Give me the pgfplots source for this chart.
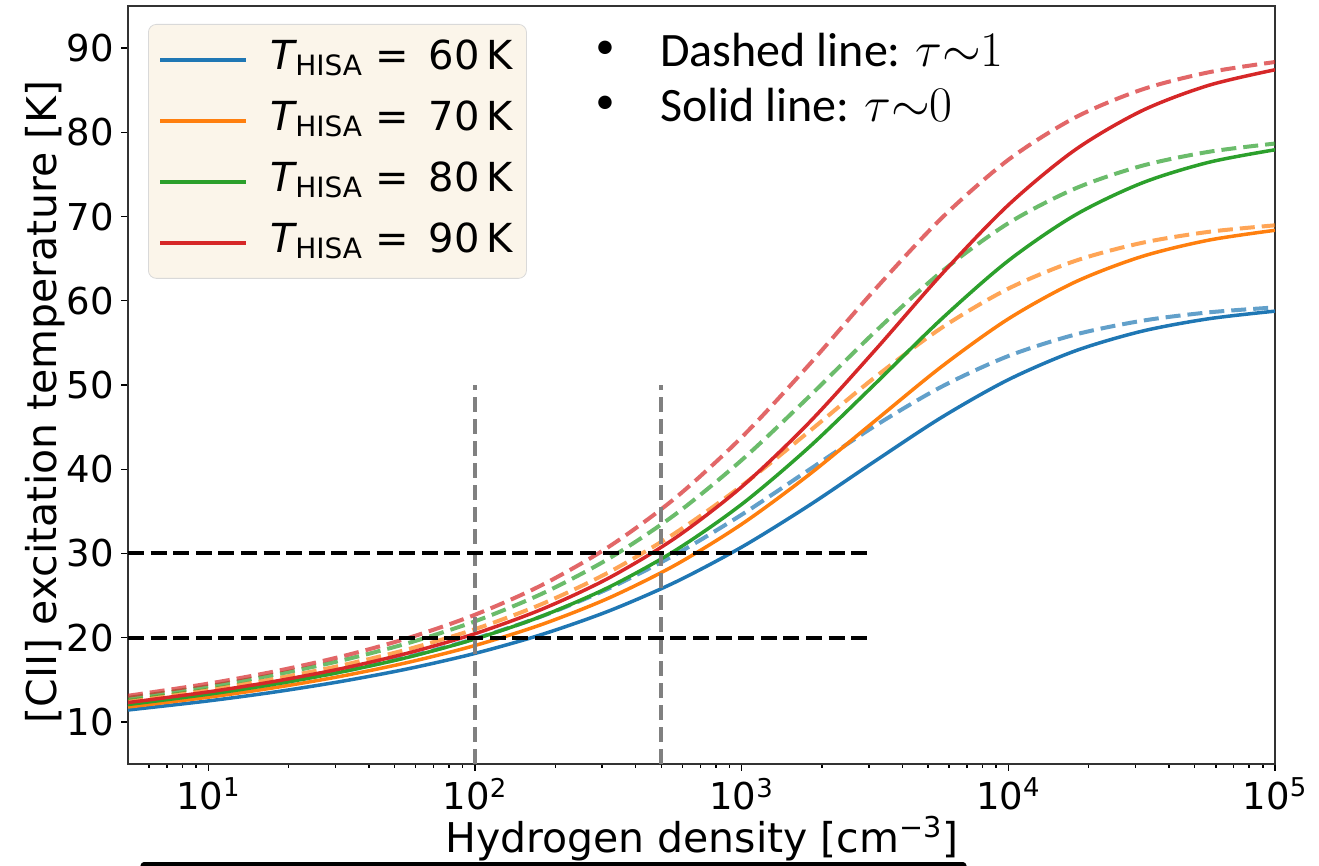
\documentclass[border=0pt]{standalone}
\usepackage{pgfplots}
\pgfplotsset{compat=1.18}
\usepackage{pgfplotstable}
\usepackage{fontspec}
\setmainfont{DejaVu Sans}
\newfontfamily\carlito{Carlito}
\definecolor{tabblue}{HTML}{1F77B4}
\definecolor{taborange}{HTML}{FF7F0E}
\definecolor{tabgreen}{HTML}{2CA02C}
\definecolor{tabred}{HTML}{D62728}
\definecolor{legbg}{RGB}{251,245,234}

\pgfplotstableread{
n       s60    s70    s80    s90    d60    d70    d80    d90
5       11.41  11.77  12.06  12.29  12.10  12.51  12.84  13.10
10      12.49  12.93  13.28  13.56  13.32  13.82  14.22  14.54
17.78   13.55  14.07  14.48  14.82  14.53  15.13  15.61  16.00
31.62   14.81  15.43  15.93  16.33  15.98  16.71  17.29  17.77
56.23   16.31  17.07  17.68  18.18  17.73  18.63  19.36  19.96
100     18.13  19.07  19.84  20.47  19.88  21.01  21.94  22.72
177.8   20.37  21.56  22.54  23.36  22.53  23.98  25.20  26.23
316.2   23.14  24.68  25.96  27.05  25.81  27.73  29.35  30.75
562.3   26.57  28.60  30.33  31.81  29.84  32.40  34.61  36.55
1000    30.75  33.47  35.83  37.90  34.60  38.03  41.08  43.79
1778    35.64  39.28  42.53  45.43  39.87  44.40  48.53  52.30
3162    40.96  45.74  50.12  54.12  45.14  50.92  56.31  61.35
5623    46.16  52.19  57.85  63.15  49.80  56.79  63.46  69.82
10000   50.63  57.85  64.76  71.37  53.44  61.44  69.21  76.74
17783   54.04  62.22  70.17  77.91  55.98  64.73  73.32  81.75
31623   56.38  65.25  73.97  82.55  57.62  66.87  76.02  85.07
56234   57.86  67.19  76.43  85.57  58.62  68.18  77.68  87.12
100000  58.77  68.37  77.93  87.43  59.21  68.96  78.67  88.35
}\curves

\begin{document}
\begin{tikzpicture}
\begin{axis}[
  scale only axis,
  width=573.5pt, height=379pt,
  xmode=log,
  xmin=5, xmax=100000, ymin=5, ymax=95,
  xtick={10,100,1000,10000,100000},
  xticklabels={10\textsuperscript{1},10\textsuperscript{2},10\textsuperscript{3},10\textsuperscript{4},10\textsuperscript{5}},
  minor xtick={6,7,8,9,20,30,40,50,60,70,80,90,200,300,400,500,600,700,800,900,2000,3000,4000,5000,6000,7000,8000,9000,20000,30000,40000,50000,60000,70000,80000,90000},
  ytick={10,20,30,40,50,60,70,80,90},
  tick align=outside, tick pos=left,
  major tick length=3.5pt, minor tick length=2pt,
  every tick/.style={black, line width=0.7pt},
  axis line style={black!80, line width=0.6pt},
  /pgf/number format/assume math mode=true,
  ticklabel style={font=\fontsize{18.5}{21}\selectfont},
  xlabel={Hydrogen density [cm\textsuperscript{−3}]},
  ylabel={[CII] excitation temperature [K]},
  every axis x label/.style={at={(axis description cs:0.5004,-0.099)}, anchor=center, font=\fontsize{20.5}{24}\selectfont},
  every axis y label/.style={at={(axis description cs:-0.0724,0.4776)}, rotate=90, anchor=center, font=\fontsize{20.5}{24}\selectfont},
  legend style={at={(axis description cs:0.01744,0.9763)}, anchor=north west,
    fill=legbg, draw=black!15, rounded corners=4pt,
    font=\fontsize{20}{22}\selectfont,
    inner xsep=5pt, inner ysep=6.5pt, row sep=8pt,
    nodes={inner sep=2pt, text height=14pt, text depth=4.5pt},
    /tikz/every odd column/.append style={column sep=9.5pt}},
  legend cell align=left,
  legend image code/.code={\draw[#1, line width=1.75pt] (0pt,0pt) -- (43pt,0pt);},
]
\pgfplotsset{
  solidc/.style={line width=1.75pt, smooth},
  dashc/.style={line width=2pt, smooth, opacity=0.7, dash pattern=on 7.5pt off 3.5pt}
}
% dashed (tau ~ 1)
\addplot[dashc, tabblue, forget plot] table[x=n, y=d60] {\curves};
\addplot[dashc, taborange, forget plot] table[x=n, y=d70] {\curves};
\addplot[dashc, tabgreen, forget plot] table[x=n, y=d80] {\curves};
\addplot[dashc, tabred, forget plot] table[x=n, y=d90] {\curves};
% solid (tau ~ 0)
\addplot[solidc, tabblue] table[x=n, y=s60] {\curves};
\addlegendentry{{\itshape T}\textsubscript{HISA} =\, 60\,K}
\addplot[solidc, taborange] table[x=n, y=s70] {\curves};
\addlegendentry{{\itshape T}\textsubscript{HISA} =\, 70\,K}
\addplot[solidc, tabgreen] table[x=n, y=s80] {\curves};
\addlegendentry{{\itshape T}\textsubscript{HISA} =\, 80\,K}
\addplot[solidc, tabred] table[x=n, y=s90] {\curves};
\addlegendentry{{\itshape T}\textsubscript{HISA} =\, 90\,K}
% reference lines
\addplot[gray, line width=2pt, dash pattern=on 7.5pt off 3.5pt, forget plot] coordinates {(100,5) (100,50)};
\addplot[gray, line width=2pt, dash pattern=on 7.5pt off 3.5pt, forget plot] coordinates {(500,5) (500,50)};
\addplot[black, line width=2pt, dash pattern=on 8pt off 3.3pt, forget plot] coordinates {(5,20) (3000,20)};
\addplot[black, line width=2pt, dash pattern=on 8pt off 3.3pt, forget plot] coordinates {(5,30) (3000,30)};
% annotation
\node[font=\carlito\fontsize{19}{20}\selectfont, inner sep=0pt] at (axis description cs:0.4159,0.942) {•};
\node[font=\carlito\fontsize{19}{20}\selectfont, inner sep=0pt] at (axis description cs:0.4159,0.8694) {•};
\node[anchor=west, font=\carlito\fontsize{24}{26}\selectfont, inner sep=0pt] at (axis description cs:0.4638,0.942) {Dashed line: $\tau{\sim}1$};
\node[anchor=west, font=\carlito\fontsize{24}{26}\selectfont, inner sep=0pt] at (axis description cs:0.4638,0.8694) {Solid line: $\tau{\sim}0$};
\end{axis}
\draw[line width=3.5pt, line cap=round] (8pt,-51pt) -- (417.5pt,-51pt);
\pgfresetboundingbox
\path[use as bounding box] (-64pt,-51pt) rectangle (595.5pt,382pt);
\end{tikzpicture}
\end{document}
